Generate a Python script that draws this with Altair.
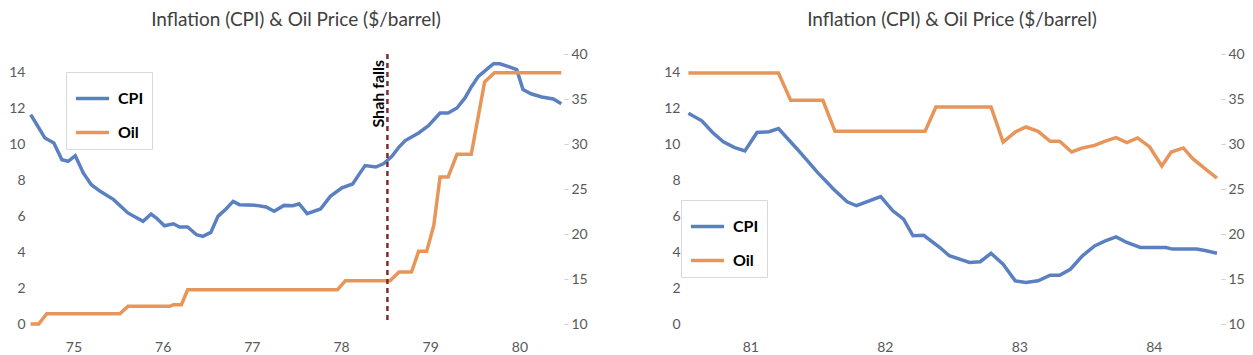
import altair as alt
import pandas as pd

BLUE = "#5B80C2"
ORANGE = "#E8955A"
FONT = "Lato"

# ---------------- Left panel (1974-1980) ----------------
l_cpi_year = [74.52, 74.59, 74.68, 74.78, 74.87, 74.94, 75.02, 75.11, 75.20, 75.30,
              75.45, 75.61, 75.78, 75.87, 75.93, 76.02, 76.12, 76.19, 76.28, 76.38,
              76.45, 76.54, 76.62, 76.71, 76.79, 76.86, 77.05, 77.16, 77.25, 77.36,
              77.46, 77.53, 77.62, 77.77, 77.88, 78.01, 78.13, 78.20, 78.27, 78.39,
              78.48, 78.57, 78.65, 78.72, 78.87, 78.98, 79.11, 79.20, 79.30, 79.39,
              79.46, 79.54, 79.63, 79.71, 79.78, 79.87, 79.97, 80.04, 80.13, 80.25,
              80.38, 80.47]
l_cpi_val = [11.63, 11.07, 10.33, 10.06, 9.13, 9.04, 9.35, 8.39, 7.74, 7.37,
             6.91, 6.17, 5.70, 6.11, 5.89, 5.46, 5.57, 5.39, 5.39, 4.96,
             4.87, 5.09, 5.98, 6.39, 6.81, 6.63, 6.59, 6.50, 6.26, 6.59,
             6.57, 6.68, 6.13, 6.39, 7.09, 7.56, 7.78, 8.30, 8.80, 8.72,
             8.91, 9.31, 9.83, 10.19, 10.61, 11.02, 11.72, 11.72, 12.00, 12.56,
             13.17, 13.76, 14.13, 14.46, 14.46, 14.31, 14.13, 13.02, 12.79, 12.61,
             12.50, 12.24]

l_oil_year = [74.52, 74.61, 74.70, 75.52, 75.61, 76.08, 76.12, 76.21, 76.28, 77.96,
              78.05, 78.55, 78.65, 78.79, 78.87, 78.96, 79.04, 79.11, 79.20, 79.30,
              79.46, 79.61, 79.72, 80.47]
l_oil_val = [10.0, 10.0, 11.14, 11.14, 11.96, 11.96, 12.14, 12.14, 13.81, 13.81,
             14.81, 14.81, 15.78, 15.78, 18.07, 18.07, 20.96, 26.33, 26.33, 28.85,
             28.85, 36.89, 37.92, 37.92]

shah_year = [78.52]
shah_label = ["Shah falls"]

# ---------------- Right panel (1980-1984) ----------------
r_cpi_year = [80.54, 80.64, 80.72, 80.80, 80.88, 80.96, 81.05, 81.14, 81.21, 81.35,
              81.50, 81.62, 81.72, 81.79, 81.97, 82.06, 82.14, 82.21, 82.29, 82.41,
              82.48, 82.63, 82.71, 82.79, 82.88, 82.97, 83.05, 83.14, 83.23, 83.30,
              83.38, 83.47, 83.56, 83.64, 83.72, 83.80, 83.90, 84.09, 84.14, 84.32,
              84.39, 84.47]
r_cpi_val = [11.71, 11.29, 10.64, 10.12, 9.81, 9.62, 10.64, 10.68, 10.86, 9.71,
             8.42, 7.49, 6.79, 6.57, 7.08, 6.29, 5.82, 4.90, 4.93, 4.25,
             3.79, 3.42, 3.46, 3.93, 3.32, 2.40, 2.31, 2.40, 2.71, 2.71,
             3.04, 3.79, 4.34, 4.62, 4.84, 4.53, 4.25, 4.25, 4.16, 4.16,
             4.07, 3.93]

r_oil_year = [80.54, 81.21, 81.30, 81.54, 81.63, 82.30, 82.38, 82.79, 82.88, 82.97,
              83.05, 83.14, 83.23, 83.30, 83.39, 83.47, 83.56, 83.64, 83.72, 83.80,
              83.88, 83.97, 84.06, 84.13, 84.22, 84.29, 84.39, 84.47]
r_oil_val = [37.89, 37.89, 34.86, 34.86, 31.41, 31.41, 34.11, 34.11, 30.22, 31.33,
             31.89, 31.41, 30.30, 30.30, 29.11, 29.56, 29.85, 30.33, 30.70, 30.15,
             30.67, 29.67, 27.56, 29.11, 29.56, 28.37, 27.15, 26.22]

TITLE = "Inflation (CPI) & Oil Price ($/barrel)"
cpi_ticks = [0, 2, 4, 6, 8, 10, 12, 14]
oil_ticks = [10, 15, 20, 25, 30, 35, 40]


def panel(cpi_x, cpi_y, oil_x, oil_y, xdom, xticks, lx, ly, width, shah=False):
    cpi_df = pd.DataFrame({"year": cpi_x, "value": cpi_y, "series": "CPI"})
    oil_df = pd.DataFrame({"year": oil_x, "value": oil_y, "series": "Oil"})
    color = alt.Color(
        "series:N",
        scale=alt.Scale(domain=["CPI", "Oil"], range=[BLUE, ORANGE]),
        legend=alt.Legend(
            orient="none", legendX=lx, legendY=ly, title=None,
            symbolType="stroke", symbolSize=1100, symbolStrokeWidth=3.5,
            labelFontSize=16, labelFontWeight="bold", labelColor="black",
            labelFont=FONT, strokeColor="#D9D9D9", fillColor="white",
            padding=8, rowPadding=7, labelOffset=7,
        ),
    )
    x = alt.X(
        "year:Q",
        scale=alt.Scale(domain=xdom, nice=False, zero=False),
        axis=alt.Axis(values=xticks, format="d", title=None, grid=False,
                      domain=False, ticks=False, labelPadding=16,
                      labelFontSize=14, labelColor="#595959", labelFont=FONT),
    )
    cpi = alt.Chart(cpi_df).mark_line(strokeWidth=3.5).encode(
        x=x,
        y=alt.Y("value:Q", scale=alt.Scale(domain=[0, 15], nice=False),
                axis=alt.Axis(orient="left", values=cpi_ticks, title=None, grid=False,
                              domain=False, ticks=False, labelPadding=3,
                              labelFontSize=14, labelColor="#595959", labelFont=FONT)),
        color=color,
    )
    oil = alt.Chart(oil_df).mark_line(strokeWidth=3.5).encode(
        x=x,
        y=alt.Y("value:Q", scale=alt.Scale(domain=[10, 40], nice=False, zero=False),
                axis=alt.Axis(orient="right", values=oil_ticks, title=None, grid=False,
                              domain=False, ticks=True, tickSize=4, tickColor="#CFCFCF",
                              labelPadding=3, labelFontSize=14, labelColor="#595959",
                              labelFont=FONT)),
        color=color,
    )
    layers = [cpi, oil]
    if shah:
        sdf = pd.DataFrame({"year": shah_year, "label": shah_label})
        rule = alt.Chart(sdf).mark_rule(color="#7B2D2D", strokeDash=[5, 4],
                                        strokeWidth=2.5).encode(x="year:Q")
        txt = alt.Chart(sdf).mark_text(angle=270, align="right", baseline="bottom",
                                       fontWeight="bold", fontSize=16, font=FONT,
                                       color="black").encode(
            x="year:Q", y=alt.value(6), text="label:N")
        layers += [rule, txt]
    return alt.layer(*layers).resolve_scale(y="independent").properties(
        width=width, height=270,
        title=alt.TitleParams(TITLE, anchor="middle", fontSize=19, font=FONT,
                              fontWeight="normal", color="#404040", offset=17),
    )


left = panel(l_cpi_year, l_cpi_val, l_oil_year, l_oil_val, [74.49, 80.5],
             [75, 76, 77, 78, 79, 80], 38, 18, 536, shah=True)
right = panel(r_cpi_year, r_cpi_val, r_oil_year, r_oil_val, [80.5, 84.5],
              [81, 82, 83, 84], -2, 146, 538)

chart = alt.hconcat(left, right, spacing=75).resolve_legend(
    color="independent").properties(
    padding={"left": 0, "top": 3, "right": 0, "bottom": 0}
).configure_view(stroke=None)

chart.save("out.html", embed_options={"renderer": "svg", "actions": False})
